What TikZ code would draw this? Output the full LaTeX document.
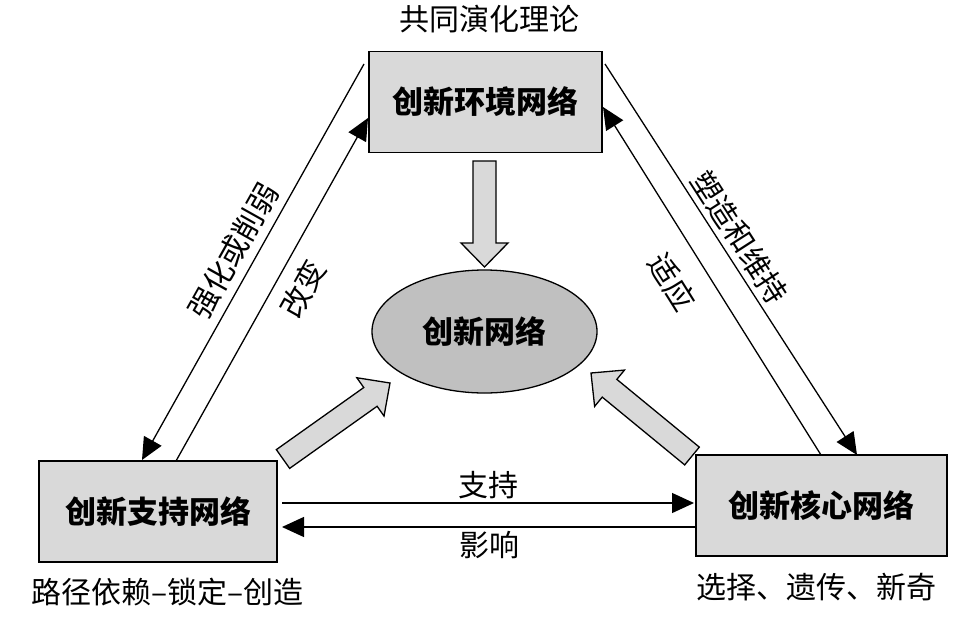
\documentclass[tikz,border=0pt]{standalone}
\usepackage{fontspec}
\newfontfamily\cjk{Noto Sans CJK SC}
\usetikzlibrary{arrows.meta, calc, shapes.geometric}

\definecolor{boxgray}{HTML}{D9D9D9}
\definecolor{ellgray}{HTML}{C0C0C0}

% wide grey arrow from #1 to #2
\newcommand{\fatarrow}[2]{%
  \coordinate (fa) at ($(#2)!24pt!(#1)$);
  \draw[fat] ($(#1)!11.5pt!90:(#2)$) -- ($(fa)!11.5pt!90:(#2)$)
    -- ($(fa)!23.5pt!90:(#2)$) -- (#2)
    -- ($(fa)!23.5pt!-90:(#2)$) -- ($(fa)!11.5pt!-90:(#2)$)
    -- ($(#1)!11.5pt!-90:(#2)$) -- cycle;}

\begin{document}
\begin{tikzpicture}[x=1pt, y=-1pt, >={Triangle[length=22pt, width=20pt]},
  netbox/.style={draw, line width=1.6pt, fill=boxgray, minimum width=#1,
    minimum height=101pt, inner sep=0pt, font=\cjk\bfseries\fontsize{31}{31}\selectfont},
  link/.style={->, line width=1.3pt},
  lbl/.style={inner sep=0pt, font=\cjk\fontsize{30}{30}\selectfont},
  fat/.style={draw, fill=boxgray, line width=1.3pt, line join=miter}]
  \useasboundingbox (0,0) rectangle (978,632);

  \node[netbox=233pt] (env) at (485.5,102) {创新环境网络};
  \node[netbox=238pt] (sup) at (158,511.5) {创新支持网络};
  \node[netbox=251pt] (core) at (821.5,505.5) {创新核心网络};
  \node[ellipse, draw, line width=1.3pt, fill=ellgray, minimum width=225pt,
    minimum height=123pt, inner sep=0pt, font=\cjk\bfseries\fontsize{31}{31}\selectfont]
    (net) at (484.5,331.5) {创新网络};

  \node[lbl] (theory) at (489,19.5) {共同演化理论};
  \node[lbl] (path) at (167.5,592.5) {路径依赖–锁定–创造};
  \node[lbl] (select) at (816.5,587) {选择、遗传、新奇};

  % ends of the connectors
  \coordinate (l1a) at (364,64);  \coordinate (l1b) at (142,460);
  \coordinate (l2a) at (176,461); \coordinate (l2b) at (368,118);
  \coordinate (r1a) at (605,64);  \coordinate (r1b) at (857,455);
  \coordinate (r2a) at (821,455); \coordinate (r2b) at (603,107);
  \coordinate (h1a) at (282,503); \coordinate (h1b) at (694,503);
  \coordinate (h2a) at (696,527); \coordinate (h2b) at (282,527);

  \draw[link] (l1a) -- node[sloped, above=8pt, lbl] {强化或削弱} (l1b);
  \draw[link] (l2a) -- node[sloped, below=12pt, lbl, pos=0.54] {改变} (l2b);
  \draw[link] (r1a) -- node[sloped, above=5pt, lbl, pos=0.47] {塑造和维持} (r1b);
  \draw[link] (r2a) -- node[sloped, below=20pt, lbl, pos=0.55] {适应} (r2b);
  \draw[link] (h1a) -- node[above=3pt, lbl] {支持} (h1b);
  \draw[link] (h2a) -- node[below=4pt, lbl] {影响} (h2b);

  % wide arrows into the ellipse
  \coordinate (d0) at (484.5,161); \coordinate (d1) at (484.5,267);
  \coordinate (s0) at (283,459);   \coordinate (s1) at (390,383);
  \coordinate (c0) at (692,456);   \coordinate (c1) at (591,373);
  \fatarrow{d0}{d1}
  \fatarrow{s0}{s1}
  \fatarrow{c0}{c1}
\end{tikzpicture}
\end{document}
